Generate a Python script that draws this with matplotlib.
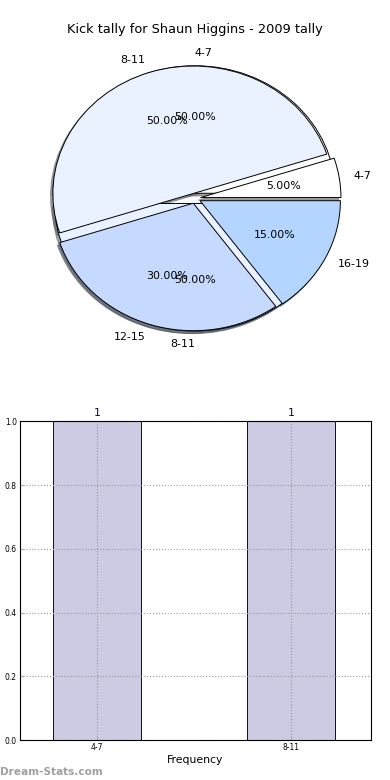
import numpy as np
import matplotlib
matplotlib.use("Agg")
import matplotlib.pyplot as plt

# datos del grafico
rangos = ['4-7', '8-11', '12-15', '16-19']
conteos = [1, 10, 6, 3]
rangos2 = ['4-7', '8-11']
conteos2 = [1, 1]
barras_etiquetas = ['4-7', '8-11']
barras_valores = [1, 1]

colores = ['#ffffff', '#eaf2ff', '#c6d9ff', '#b3d5ff']
sombra = {'ox': -0.012, 'oy': -0.015, 'shade': 0.6, 'alpha': 0.6}

fig, (ax1, ax2) = plt.subplots(2, 1, figsize=(3.9, 7.8), dpi=100)
fig.subplots_adjust(left=0.05, right=0.95, bottom=0.051, top=0.95, hspace=0.2)

# pastel de fondo (dos rangos)
w2, t2, a2 = ax1.pie(conteos2, labels=rangos2, colors=colores[:2], autopct='%1.2f%%',
                     explode=[0.04] * len(conteos2), shadow=sombra,
                     wedgeprops={'linewidth': 0.7, 'edgecolor': 'black'},
                     textprops={'fontsize': 7.9})
t2[0].set_ha('left')
t2[1].set_ha('right')
# pastel principal
ax1.pie(conteos, labels=rangos, colors=colores, autopct='%1.2f%%',
        explode=[0.04] * len(conteos), shadow=sombra,
        wedgeprops={'linewidth': 0.7, 'edgecolor': 'black'},
        textprops={'fontsize': 7.9})
ax1.set_aspect('auto')
ax1.set_title('Kick tally for Shaun Higgins - 2009 tally', fontsize=9.3, pad=4)

# barras
x = np.arange(len(barras_valores))
ax2.bar(x, barras_valores, width=0.45, color='#cbcbe3', edgecolor='#000080', linewidth=0.7)
for xi, v in zip(x, barras_valores):
    ax2.text(xi, v + 0.01, str(v), ha='center', va='bottom', fontsize=7.9, color='#000080')
ax2.set_xlim(-0.4, 1.41)
ax2.set_ylim(0, 1.0)
ax2.set_xticks(x)
ax2.set_xticklabels(barras_etiquetas)
ax2.set_yticks(np.arange(0, 1.01, 0.2))
ax2.set_yticklabels(['%.1f' % t for t in np.arange(0, 1.01, 0.2)])
ax2.tick_params(labelsize=5.5, length=3, color='#aaaaaa', direction='in', pad=2)
ax2.grid(True, linestyle=':', color='#999999', linewidth=0.8)
ax2.set_xlabel('Frequency', fontsize=7.8, labelpad=2)
for s in ax2.spines.values():
    s.set_linewidth(0.8)

fig.text(0.0, 0.007, 'Dream-Stats.com', fontsize=7.6, fontweight='bold', color='#a0a0a0')

fig.savefig('out.png', dpi=100)
